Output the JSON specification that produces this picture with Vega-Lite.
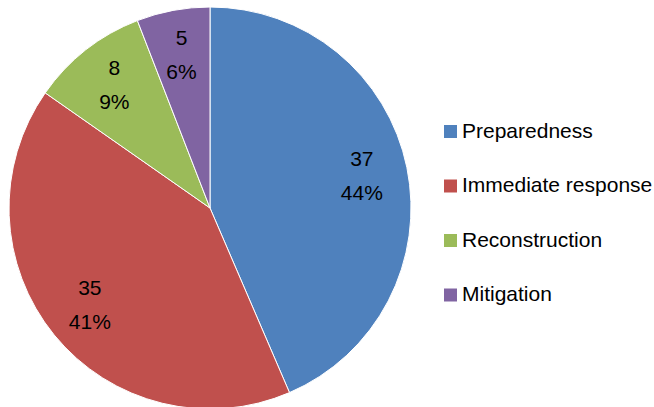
{
  "$schema": "https://vega.github.io/schema/vega-lite/v6.json",
  "autosize": "none",
  "width": 420,
  "height": 416,
  "padding": {"left": 0, "top": 0, "right": 234, "bottom": 0},
  "background": "white",
  "data": {"values": [
    {"phase": "Preparedness", "count": 37, "pct": "44%", "idx": 1},
    {"phase": "Immediate response", "count": 35, "pct": "41%", "idx": 2},
    {"phase": "Reconstruction", "count": 8, "pct": "9%", "idx": 3},
    {"phase": "Mitigation", "count": 5, "pct": "6%", "idx": 4}
  ]},
  "encoding": {
    "theta": {"field": "count", "type": "quantitative", "stack": true},
    "order": {"field": "idx", "type": "quantitative"}
  },
  "layer": [
    {
      "mark": {"type": "arc", "outerRadius": 201, "stroke": "white", "strokeWidth": 1},
      "encoding": {
        "color": {
          "field": "phase", "type": "nominal",
          "scale": {
            "domain": ["Preparedness", "Immediate response", "Reconstruction", "Mitigation"],
            "range": ["#4F81BD", "#C0504D", "#9BBB59", "#8064A2"]
          },
          "legend": {
            "title": null, "orient": "none", "legendX": 440, "legendY": 121,
            "symbolType": "square", "symbolSize": 169, "symbolStrokeWidth": 0,
            "labelFont": "Liberation Sans", "labelFontSize": 21, "labelColor": "black",
            "labelLimit": 300, "rowPadding": 32.5, "labelOffset": 1
          }
        }
      }
    },
    {
      "mark": {"type": "text", "radius": 155, "dy": -17, "font": "Liberation Sans", "fontSize": 21, "color": "black"},
      "encoding": {"text": {"field": "count", "type": "quantitative"}}
    },
    {
      "mark": {"type": "text", "radius": 155, "dy": 17, "font": "Liberation Sans", "fontSize": 21, "color": "black"},
      "encoding": {"text": {"field": "pct", "type": "nominal"}}
    }
  ],
  "config": {"view": {"stroke": null}}
}
